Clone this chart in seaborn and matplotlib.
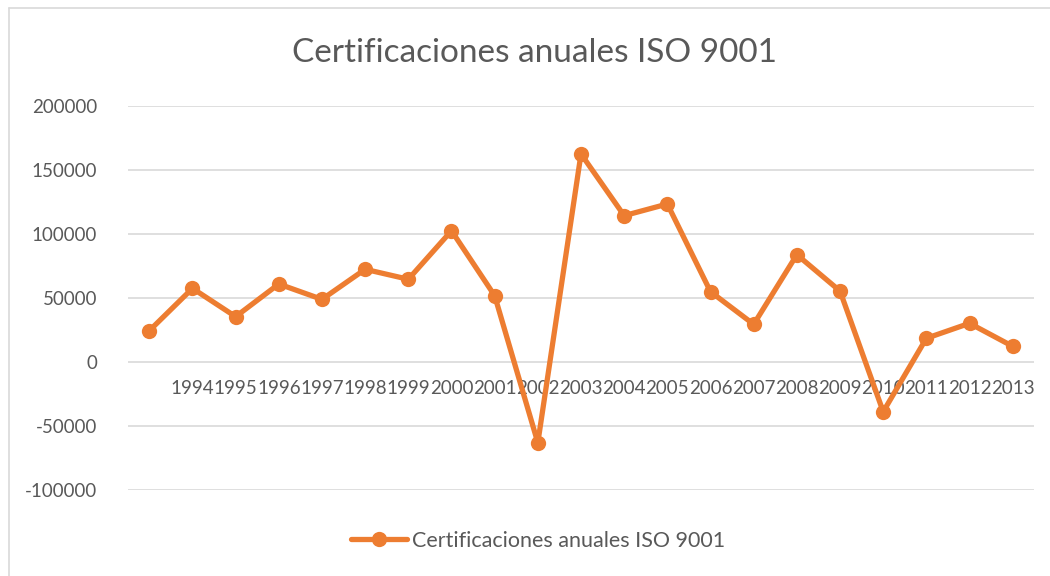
import matplotlib
matplotlib.use("Agg")
import matplotlib.pyplot as plt
import seaborn as sns
import numpy as np
import pandas as pd
from matplotlib.lines import Line2D

years = ["", "1994", "1995", "1996", "1997", "1998", "1999", "2000", "2001", "2002",
         "2003", "2004", "2005", "2006", "2007", "2008", "2009", "2010", "2011", "2012", "2013"]
values = [24200, 57300, 35200, 60700, 48700, 72200, 64400, 102300, 51600, -63300,
          162300, 114100, 123200, 54700, 29200, 83600, 55200, -39100, 18300, 30000, 12000]
series_name = "Certificaciones anuales ISO 9001"
y_ticks = [-100000, -50000, 0, 50000, 100000, 150000, 200000]

sns.set_theme(style="white")
plt.rcParams['font.family'] = ['Lato', 'DejaVu Sans']

text_color = "#595959"
line_color = "#ED7D31"
grid_color = "#D9D9D9"

df = pd.DataFrame({"pos": np.arange(len(years)), "value": values, "serie": series_name})

fig = plt.figure(figsize=(10.5, 5.76), dpi=100)
fig.patch.set_facecolor("white")
# chart-area border (left and top edges visible)
fig.add_artist(Line2D([8.5/1050, 8.5/1050], [0, 1 - 7.5/576], transform=fig.transFigure,
                      color="#D9D9D9", linewidth=1.2))
fig.add_artist(Line2D([8.5/1050, 1], [1 - 7.5/576, 1 - 7.5/576], transform=fig.transFigure,
                      color="#D9D9D9", linewidth=1.2))

ax = fig.add_axes([127.7/1050, 1 - 489.7/576, (1034.3 - 127.7)/1050, (489.7 - 105.7)/576])
ax.set_facecolor("none")

sns.lineplot(data=df, x="pos", y="value", hue="serie", palette=[line_color], marker="o",
             markersize=11, markeredgewidth=0, linewidth=3.8, ax=ax, legend=False, zorder=3)

ax.set_ylim(-100000, 200000)
ax.set_xlim(-0.5, len(years) - 0.5)
ax.set_yticks(y_ticks)
ax.set_yticklabels([str(v) for v in y_ticks], color=text_color, fontsize=13.5)
ax.yaxis.grid(True, color=grid_color, linewidth=1.2)
ax.set_axisbelow(True)
for s in ["top", "right", "left"]:
    ax.spines[s].set_visible(False)
ax.spines["bottom"].set_position(("data", 0))
ax.spines["bottom"].set_visible(False)
ax.set_xticks(np.arange(len(years)))
ax.set_xticklabels(years, color=text_color, fontsize=13.5)
ax.tick_params(axis="x", length=0, pad=13)
ax.tick_params(axis="y", length=0, pad=22)
ax.set_xlabel("")
ax.set_ylabel("")

fig.text(535/1050, 1 - 53/576, series_name, ha="center", va="center", fontsize=24, color=text_color)

handle = Line2D([0], [0], color=line_color, linewidth=3.8, marker="o", markersize=11, markeredgewidth=0)
fig.legend([handle], [series_name], loc="center", bbox_to_anchor=(538/1050, 1 - 541/576), frameon=False,
           fontsize=15.5, labelcolor=text_color, handlelength=2.6, handletextpad=0.2)

fig.savefig("out.png", dpi=100, facecolor="white")
